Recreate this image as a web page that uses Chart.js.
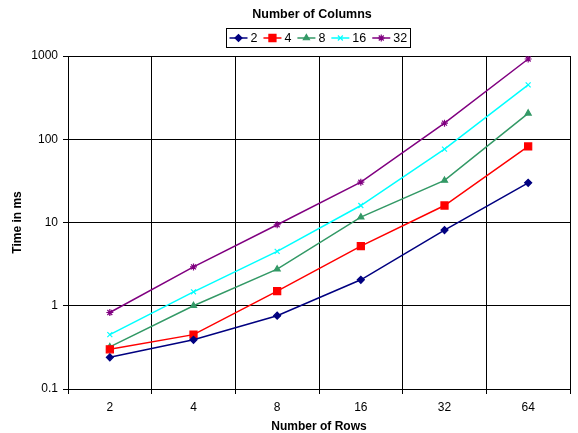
<!DOCTYPE html>
<html>
<head>
<meta charset="utf-8">
<script src="https://cdn.jsdelivr.net/npm/chart.js@4/dist/chart.umd.min.js"></script>
<style>
  html, body { margin: 0; padding: 0; background: #fff; }
  #wrap { width: 578px; height: 433px; }
</style>
</head>
<body>
<div id="wrap"><canvas id="rows_chart" width="578" height="433"></canvas></div>
<script>
// chart data
const rowLabels = ['2', '4', '8', '16', '32', '64'];
const colNames = ['2', '4', '8', '16', '32'];
const cols2 = [0.24, 0.39, 0.76, 2.05, 8.1, 30];
const cols4 = [0.30, 0.45, 1.5, 5.2, 16, 82];
const cols8 = [0.32, 1.0, 2.75, 11.6, 32, 205];
const cols16 = [0.45, 1.47, 4.5, 16, 76, 450];
const cols32 = [0.83, 2.93, 9.4, 30.5, 156, 920];
const yTicks = [0.1, 1, 10, 100, 1000];

const legendTitle = 'Number of Columns';
const fontFam = '"Liberation Sans", Arial, sans-serif';

function makeSet(name, values, color, style, radius) {
    return {
        label: name,
        data: values,
        borderColor: color,
        backgroundColor: color,
        borderWidth: 1.5,
        pointStyle: style,
        pointRadius: radius,
        pointHoverRadius: radius,
        pointBorderWidth: 1.2,
        tension: 0
    };
}

// legend drawn in a box under the title, like the excel one
const boxLegend = {
    id: 'boxLegend',
    afterDraw(chart) {
        const ctx = chart.ctx;
        ctx.save();
        ctx.fillStyle = '#000';
        ctx.textBaseline = 'middle';
        ctx.textAlign = 'center';
        ctx.font = 'bold 12.5px ' + fontFam;
        ctx.fillText(legendTitle, 312, 15);

        ctx.font = '12.5px ' + fontFam;
        const lineLen = 18, gap = 3, itemGap = 6, pad = 3;
        let total = pad;
        const sets = chart.data.datasets;
        sets.forEach(function (ds, i) {
            total += lineLen + gap + ctx.measureText(ds.label).width;
            if (i < sets.length - 1) total += itemGap;
        });
        total += pad;
        const boxLeft = Math.round(318 - total / 2) + 0.5;
        const boxTop = 28.5, boxH = 19;
        ctx.strokeStyle = '#000';
        ctx.lineWidth = 1;
        ctx.strokeRect(boxLeft, boxTop, Math.round(total), boxH);

        const cy = boxTop + boxH / 2;
        let x = boxLeft + pad;
        ctx.textAlign = 'left';
        sets.forEach(function (ds) {
            ctx.strokeStyle = ds.borderColor;
            ctx.fillStyle = ds.backgroundColor;
            ctx.lineWidth = 1.5;
            ctx.beginPath();
            ctx.moveTo(x, cy);
            ctx.lineTo(x + lineLen, cy);
            ctx.stroke();
            ctx.lineWidth = 1.2;
            Chart.helpers.drawPoint(ctx, {
                pointStyle: ds.pointStyle,
                radius: ds.pointRadius,
                rotation: 0,
                borderWidth: 1.2
            }, x + lineLen / 2, cy);
            x += lineLen + gap;
            ctx.fillStyle = '#000';
            ctx.fillText(ds.label, x, cy + 1);
            x += ctx.measureText(ds.label).width + itemGap;
        });
        ctx.restore();
    }
};

const ctx = document.getElementById('rows_chart').getContext('2d');
const myChart = new Chart(ctx, {
    type: 'line',
    data: {
        labels: rowLabels,
        datasets: [
            makeSet(colNames[0], cols2, '#000080', 'rectRot', 3.5),
            makeSet(colNames[1], cols4, '#FF0000', 'rect', 5),
            makeSet(colNames[2], cols8, '#339966', 'triangle', 3.5),
            makeSet(colNames[3], cols16, '#00FFFF', 'crossRot', 3.5),
            makeSet(colNames[4], cols32, '#800080', 'star', 3.5)
        ]
    },
    options: {
        responsive: false,
        animation: false,
        devicePixelRatio: 1,
        layout: { padding: { top: 56, right: 8, left: 0, bottom: 0 } },
        plugins: {
            legend: { display: false },
            tooltip: { enabled: false }
        },
        scales: {
            x: {
                offset: true,
                grid: { offset: true, color: '#000', lineWidth: 1, tickLength: 5, tickColor: '#000' },
                border: { color: '#000' },
                ticks: { color: '#000', font: { size: 12, family: fontFam }, padding: 6, maxRotation: 0 },
                title: {
                    display: true, text: 'Number of Rows', color: '#000',
                    font: { size: 12, weight: 'bold', family: fontFam, lineHeight: 1 },
                    padding: { top: 0, bottom: 0 }
                },
                afterFit: function (scale) { scale.height = 44; }
            },
            y: {
                type: 'logarithmic',
                min: 0.1,
                max: 1000,
                grid: { color: '#000', lineWidth: 1, tickLength: 5, tickColor: '#000' },
                border: { color: '#000' },
                ticks: {
                    color: '#000',
                    font: { size: 12, family: fontFam },
                    padding: 5,
                    callback: function (value) { return String(value); }
                },
                afterBuildTicks: function (scale) {
                    scale.ticks = yTicks.map(function (v) { return { value: v }; });
                },
                title: {
                    display: true, text: 'Time in ms', color: '#000',
                    font: { size: 12, weight: 'bold', family: fontFam, lineHeight: 1 },
                    padding: { top: 12, bottom: 0 }
                },
                afterFit: function (scale) { scale.width = 68; }
            }
        }
    },
    plugins: [boxLegend]
});
</script>
</body>
</html>
